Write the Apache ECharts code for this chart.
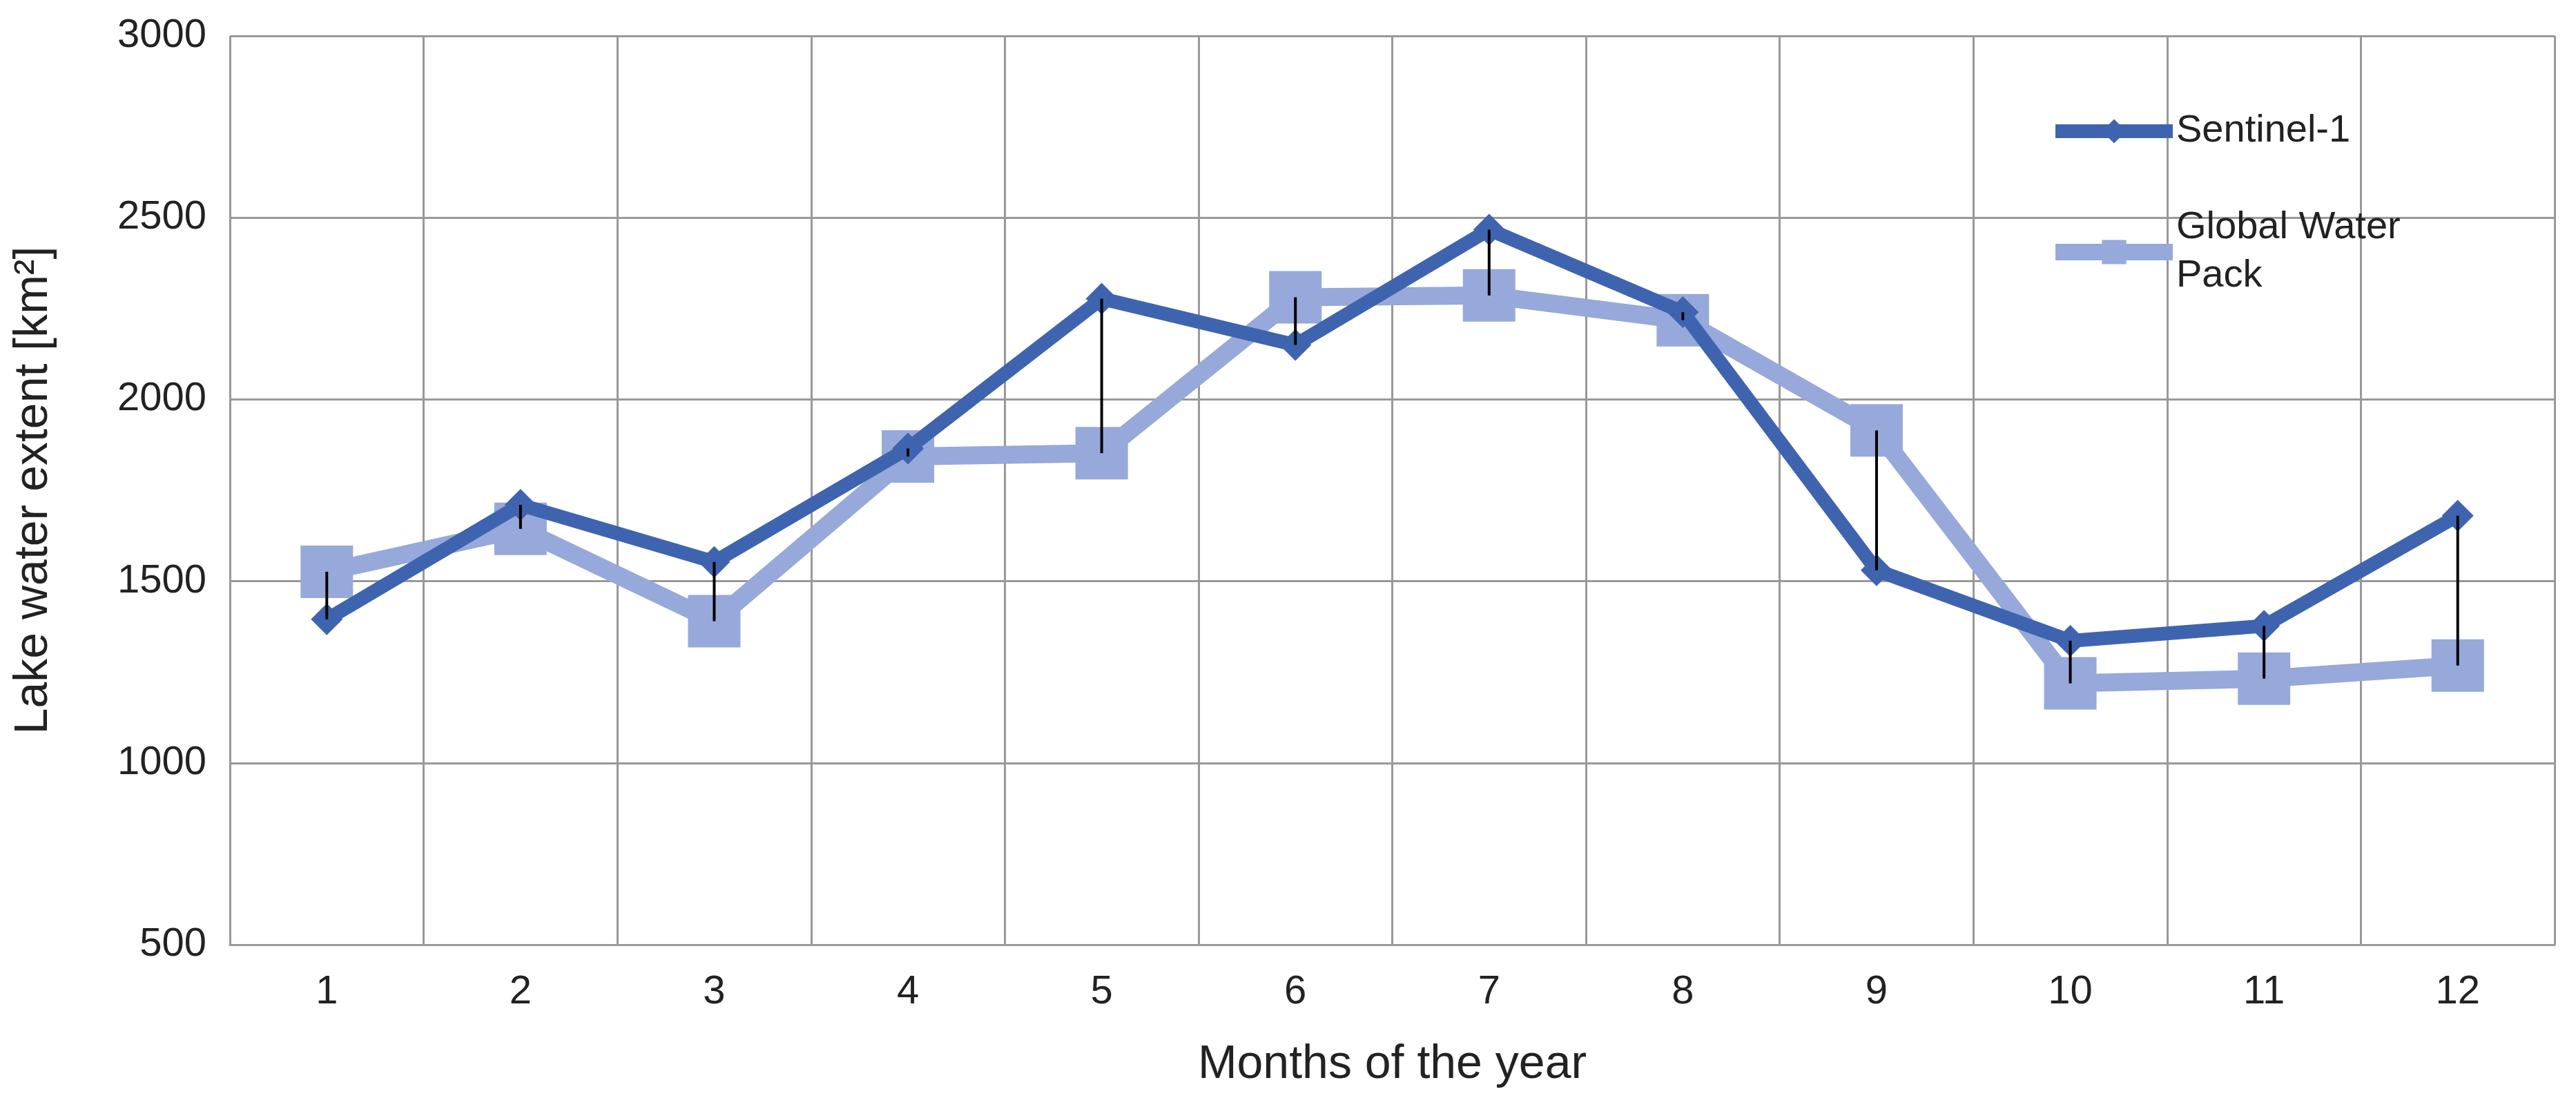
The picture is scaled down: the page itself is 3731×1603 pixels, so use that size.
<!DOCTYPE html>
<html>
<head>
<meta charset="utf-8">
<script src="https://cdn.jsdelivr.net/npm/echarts@6/dist/echarts.min.js"></script>
<style>html,body{margin:0;padding:0;background:#fff}#c{width:3731px;height:1603px}</style>
</head>
<body>
<div id="c"></div>
<script>
var months = ['1','2','3','4','5','6','7','8','9','10','11','12'];
var sentinel = [1395, 1710, 1553, 1865, 2277, 2150, 2467, 2240, 1530, 1336, 1377, 1680];
var gwp = [1526, 1644, 1390, 1843, 1852, 2281, 2286, 2218, 1915, 1219, 1232, 1268];

var chart = echarts.init(document.getElementById('c'));
var font = 'Liberation Sans, Arial, sans-serif';
var diffs = months.map(function (m, i) { return [i, sentinel[i], gwp[i]]; });

chart.setOption({
  animation: false,
  textStyle: { fontFamily: font },
  grid: { left: 333, right: 31, top: 52, bottom: 235 },
  legend: {
    orient: 'vertical', left: 2960, top: 150, itemGap: 70,
    itemWidth: 170, itemHeight: 44,
    textStyle: { fontSize: 56, color: '#222', fontFamily: font, lineHeight: 70 },
    formatter: function (n) { return n === 'Global Water Pack' ? 'Global Water\nPack' : n; },
    data: [
      { name: 'Sentinel-1', lineStyle: { width: 20 } },
      { name: 'Global Water Pack', lineStyle: { width: 24 } }
    ]
  },
  xAxis: {
    type: 'category', data: months, boundaryGap: true,
    name: 'Months of the year', nameLocation: 'middle', nameGap: 140,
    nameTextStyle: { fontSize: 68, color: '#222' },
    axisLine: { lineStyle: { color: '#999', width: 3 } },
    axisTick: { show: false },
    axisLabel: { fontSize: 58, color: '#222', margin: 40 },
    splitLine: { show: true, lineStyle: { color: '#999', width: 3 } }
  },
  yAxis: {
    type: 'value', min: 500, max: 3000, interval: 500,
    name: 'Lake water extent [km²]', nameLocation: 'middle', nameGap: 250,
    nameTextStyle: { fontSize: 68, color: '#222' },
    axisLine: { show: false }, axisTick: { show: false },
    axisLabel: { fontSize: 58, color: '#222', margin: 34, formatter: function (v) { return String(v); } },
    splitLine: { lineStyle: { color: '#999', width: 3 } }
  },
  series: [
    {
      name: 'diff', type: 'custom', z: 5,
      renderItem: function (params, api) {
        var a = api.coord([api.value(0), api.value(1)]);
        var b = api.coord([api.value(0), api.value(2)]);
        return { type: 'line', shape: { x1: a[0], y1: a[1], x2: b[0], y2: b[1] },
                 style: { stroke: '#000', lineWidth: 4 } };
      },
      encode: { x: 0, y: [1, 2] },
      data: diffs
    },
    {
      name: 'Global Water Pack', type: 'line', data: gwp, z: 3,
      symbol: 'rect', symbolSize: 76,
      lineStyle: { color: '#97A9DA', width: 26 },
      itemStyle: { color: '#97A9DA' }
    },
    {
      name: 'Sentinel-1', type: 'line', data: sentinel, z: 4,
      symbol: 'diamond', symbolSize: 46,
      lineStyle: { color: '#3F64AF', width: 20 },
      itemStyle: { color: '#3F64AF' }
    }
  ]
});
</script>
</body>
</html>
